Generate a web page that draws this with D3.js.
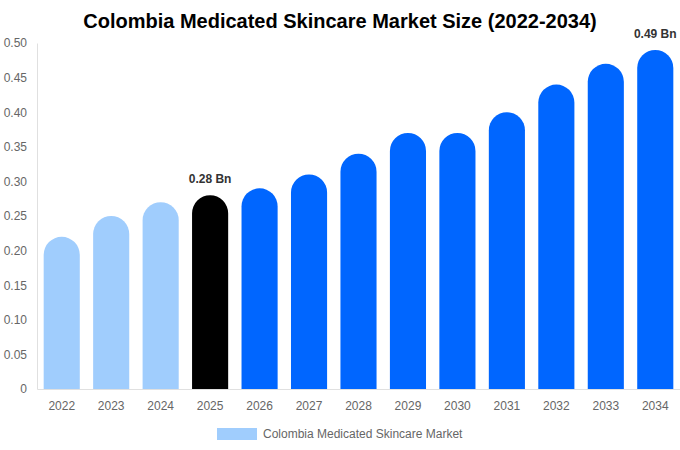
<!DOCTYPE html>
<html>
<head>
<meta charset="utf-8">
<script src="https://cdn.jsdelivr.net/npm/d3@7"></script>
<style>
  body { margin: 0; background: #fff; }
  text { font-family: "Liberation Sans", Arial, sans-serif; }
</style>
</head>
<body>
<div id="chart"></div>
<script>
// data
var years = ["2022","2023","2024","2025","2026","2027","2028","2029","2030","2031","2032","2033","2034"];
var values = [0.22, 0.25, 0.27, 0.28, 0.29, 0.31, 0.34, 0.37, 0.37, 0.40, 0.44, 0.47, 0.49];
var yTicks = [0, 0.05, 0.10, 0.15, 0.20, 0.25, 0.30, 0.35, 0.40, 0.45, 0.50];
var labelled = ["2025", "2034"];
var seriesName = "Colombia Medicated Skincare Market";

// settings
var W = 680, H = 450;
var margin = {top: 43, right: 0, bottom: 61, left: 37},
    width = W - margin.left - margin.right,
    height = H - margin.top - margin.bottom;

var svg = d3.select("#chart")
  .append("svg")
  .attr("width", W)
  .attr("height", H);

svg.append("text")
  .attr("x", W / 2)
  .attr("y", 28)
  .attr("text-anchor", "middle")
  .attr("font-size", 20)
  .attr("font-weight", "bold")
  .attr("fill", "#000")
  .text("Colombia Medicated Skincare Market Size (2022-2034)");

var g = svg.append("g")
  .attr("transform", "translate(" + margin.left + "," + margin.top + ")");

var x = d3.scaleBand()
  .domain(years)
  .range([0, width])
  .paddingInner(0.27)
  .paddingOuter(0.135);

var y = d3.scaleLinear()
  .domain([0, 0.5])
  .range([height, 0]);

// Y axis
var yAxis = g.append("g")
  .call(d3.axisLeft(y).tickValues(yTicks).tickSize(0).tickPadding(10)
    .tickFormat(function(d) { return d === 0 ? "0" : d3.format(".2f")(d); }));
yAxis.select(".domain").attr("stroke", "#e0e0e0");
yAxis.selectAll("text").attr("fill", "#666").attr("font-size", 12)
  .attr("font-family", "Liberation Sans, Arial, sans-serif");

// X axis
var xAxis = g.append("g")
  .attr("transform", "translate(0," + height + ")")
  .call(d3.axisBottom(x).tickSize(0).tickPadding(12));
xAxis.select(".domain").attr("stroke", "#e0e0e0");
xAxis.selectAll("text").attr("fill", "#666").attr("font-size", 12)
  .attr("font-family", "Liberation Sans, Arial, sans-serif");

function color(yr) {
  if (yr < "2025") return "#a0cdfd";
  if (yr === "2025") return "#000000";
  return "#0066ff";
}

function barPath(d, i) {
  var x0 = x(years[i]), w = x.bandwidth();
  var top = y(d), bottom = y(0);
  var r = Math.min(w / 2, bottom - top);
  return "M" + x0 + "," + bottom +
    "V" + (top + r) +
    "A" + r + "," + r + " 0 0 1 " + (x0 + r) + "," + top +
    "H" + (x0 + w - r) +
    "A" + r + "," + r + " 0 0 1 " + (x0 + w) + "," + (top + r) +
    "V" + bottom + "Z";
}

g.selectAll(".bar")
  .data(values)
  .enter()
  .append("path")
  .attr("class", "bar")
  .attr("d", barPath)
  .attr("fill", function(d, i) { return color(years[i]); });

// value labels
g.selectAll(".vlabel")
  .data(values.filter(function(d, i) { return labelled.indexOf(years[i]) >= 0; }))
  .enter()
  .append("text")
  .attr("class", "vlabel")
  .attr("x", function(d) { return x(years[values.indexOf(d)]) + x.bandwidth() / 2; })
  .attr("y", function(d) { return y(d) - 12; })
  .attr("text-anchor", "middle")
  .attr("font-size", 12)
  .attr("font-weight", "bold")
  .attr("fill", "#333")
  .text(function(d) { return d.toFixed(2) + " Bn"; });

// legend
var legend = svg.append("g").attr("transform", "translate(217,428)");
legend.append("rect")
  .attr("width", 40).attr("height", 12)
  .attr("fill", "#a0cdfd");
legend.append("text")
  .attr("x", 46).attr("y", 10)
  .attr("font-size", 12)
  .attr("fill", "#666")
  .text(seriesName);
</script>
</body>
</html>
